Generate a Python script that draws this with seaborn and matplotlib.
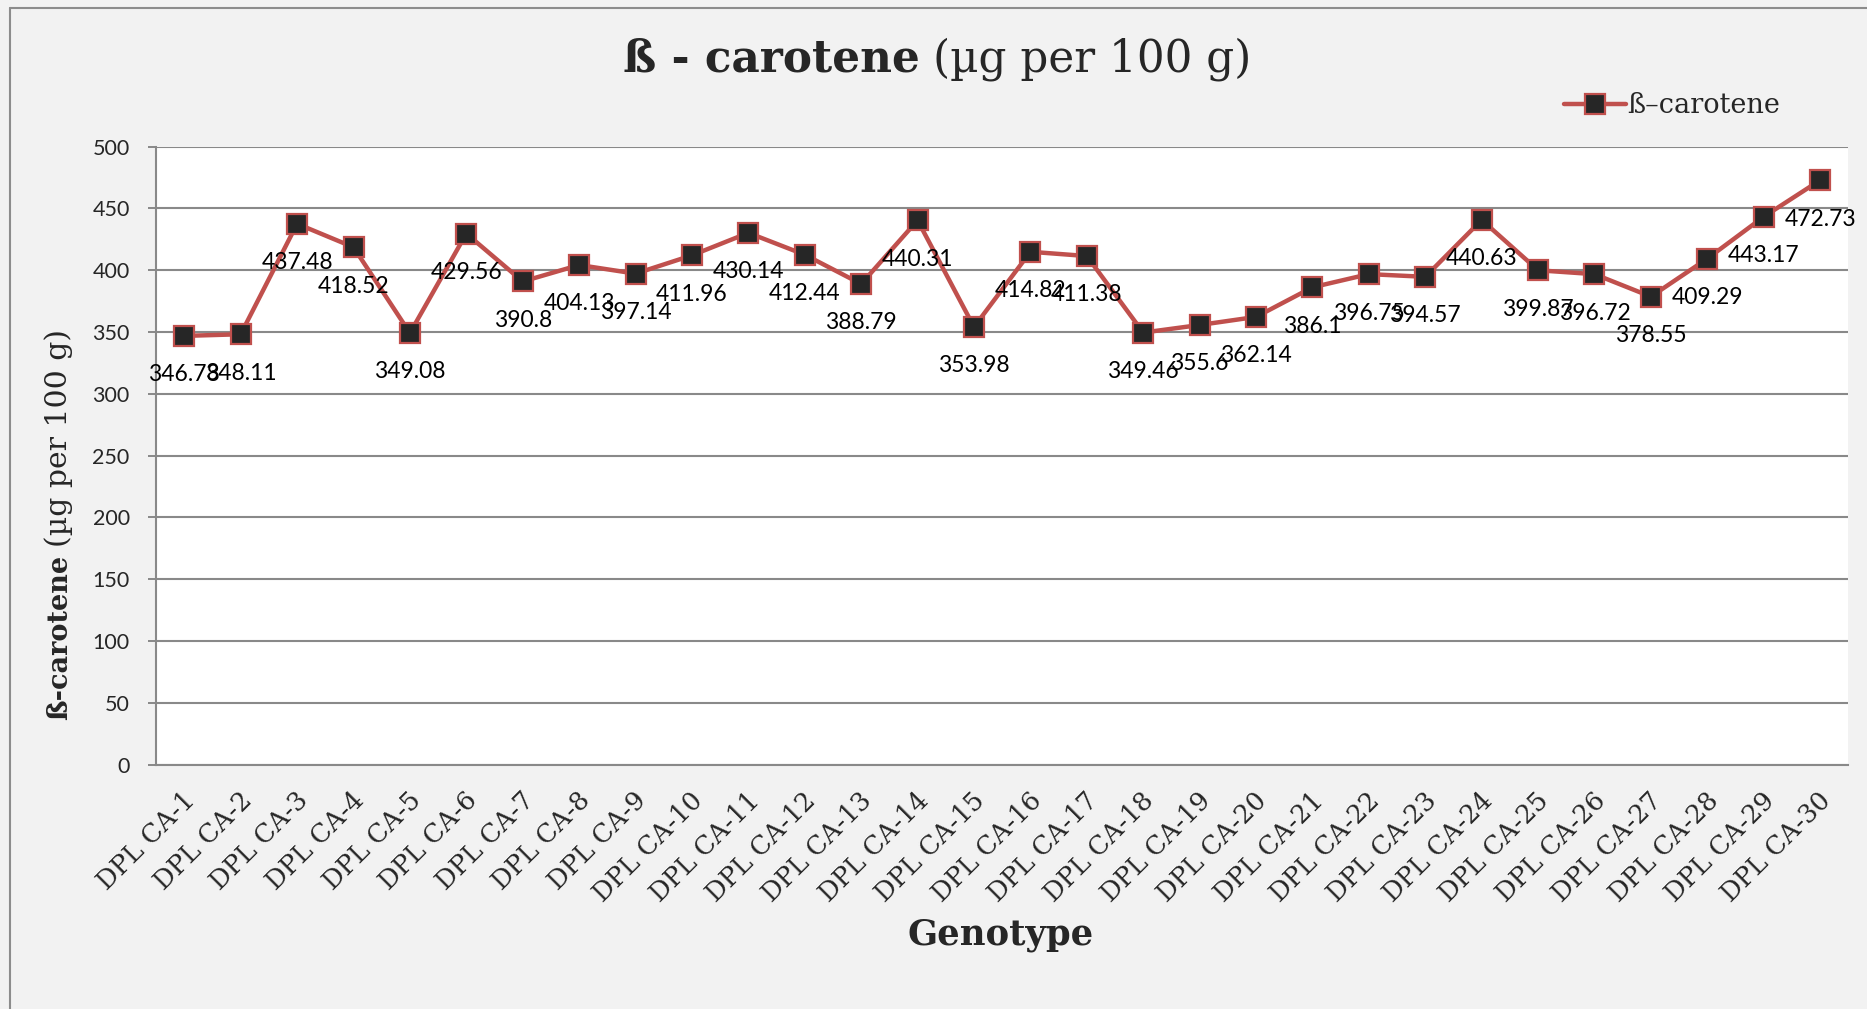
import numpy as np
import pandas as pd
import matplotlib
matplotlib.use("Agg")
import matplotlib.pyplot as plt
import matplotlib.transforms as mtransforms
from matplotlib.lines import Line2D
import seaborn as sns

## beta-carotene content of 30 genotypes
genotypes = ["DPL CA-%d" % i for i in range(1, 31)]
carotene = [346.78, 348.11, 437.48, 418.52, 349.08, 429.56, 390.8, 404.13, 397.14, 411.96,
            430.14, 412.44, 388.79, 440.31, 353.98, 414.82, 411.38, 349.46, 355.6, 362.14,
            386.1, 396.75, 394.57, 440.63, 399.87, 396.72, 378.55, 409.29, 443.17, 472.73]
y_ticks = [0, 50, 100, 150, 200, 250, 300, 350, 400, 450, 500]

df = pd.DataFrame({"Genotype": genotypes, "value": carotene})

sns.set_style("white")
plt.rcParams["font.family"] = ["DejaVu Serif"]

red = "#c0504d"
grid = "#898989"
bg = "#f2f2f2"

fig = plt.figure(figsize=(18.67, 10.09), dpi=100, facecolor=bg)
ax = fig.add_axes([0.0836, 0.2423, 0.9064, 0.6125])
ax.set_facecolor("white")

sns.lineplot(data=df, x="Genotype", y="value", sort=False, ax=ax, color=red, linewidth=3.2,
             marker="s", markersize=14, markerfacecolor="#262626", markeredgecolor=red,
             markeredgewidth=1.6, label="ß–carotene")

## data labels below each point
for i, v in enumerate(carotene):
    ax.annotate(f"{v:g}", (i, v), xytext=(0, -28), textcoords="offset points",
                ha="center", va="center", fontsize=16.5, family="Lato", color="black")

ax.set_ylim(0, 500)
ax.set_xlim(-0.5, len(genotypes) - 0.5)
ax.set_yticks(y_ticks)
ax.set_yticklabels([str(t) for t in y_ticks], family="Lato", fontsize=15.5)
ax.yaxis.grid(True, color=grid, linewidth=1.5)
ax.set_axisbelow(True)

ax.set_xticks(range(len(genotypes)))
ax.set_xticks(np.arange(-0.5, len(genotypes), 1.0), minor=True)
ax.set_xticklabels(genotypes, rotation=45, ha="right", rotation_mode="anchor",
                   fontsize=18.5, va="center")
ax.tick_params(axis="x", which="major", length=0, pad=23)
ax.tick_params(axis="x", which="minor", length=6, width=1.4, color=grid, direction="out")
ax.tick_params(axis="y", length=6, width=1.4, color=grid, pad=13, left=True)
shift = mtransforms.ScaledTranslation(5 / 72, 0, fig.dpi_scale_trans)
for lab in ax.get_xticklabels():
    lab.set_transform(lab.get_transform() + shift)

for s in ["top", "right"]:
    ax.spines[s].set_visible(False)
for s in ["left", "bottom"]:
    ax.spines[s].set_color(grid)
    ax.spines[s].set_linewidth(1.5)

ax.set_xlabel("")
ax.set_ylabel("")

## titles
fig.text(0.4928, 0.9296, "ß - carotene", ha="right", va="baseline", fontsize=31.5, weight="bold")
fig.text(0.4995, 0.9296, "(µg per 100 g)", ha="left", va="baseline", fontsize=31.5)
fig.text(0.5357, 0.0644, "Genotype", ha="center", va="baseline", fontsize=25.5, weight="bold")
fig.text(0.0359, 0.4500, "ß-carotene", rotation=90, rotation_mode="anchor", ha="right",
         va="baseline", fontsize=19.5, weight="bold")
fig.text(0.0359, 0.4579, "(µg per 100 g)", rotation=90, rotation_mode="anchor", ha="left",
         va="baseline", fontsize=21.5)

leg = ax.legend(loc="center right", bbox_to_anchor=(0.9667, 0.895), bbox_transform=fig.transFigure,
                frameon=False, fontsize=19.5, handlelength=2.3, handletextpad=0.05)

## chart border
fig.add_artist(Line2D([0.0054, 0.0054], [0, 0.992], transform=fig.transFigure, color="#8c8c8c", lw=1.5))
fig.add_artist(Line2D([0.0054, 1], [0.992, 0.992], transform=fig.transFigure, color="#8c8c8c", lw=1.5))

fig.savefig("out.png", dpi=100, facecolor=bg)
